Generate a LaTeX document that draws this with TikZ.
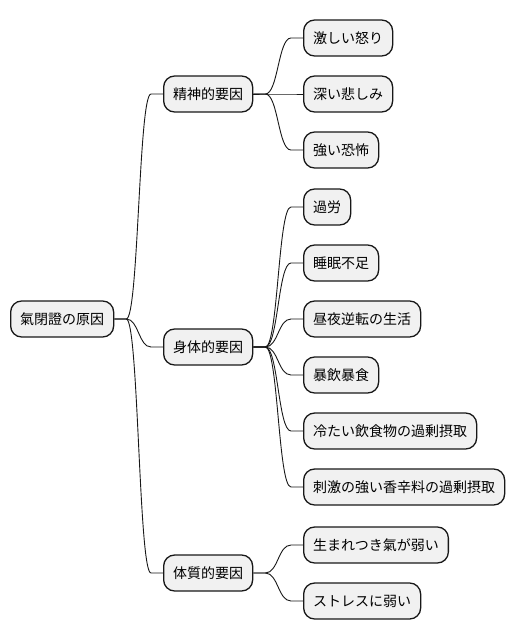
\documentclass[tikz,border=0pt]{standalone}
\usepackage{fontspec}
\setmainfont{Noto Sans CJK JP}
\usetikzlibrary{calc}
\definecolor{boxfill}{HTML}{F1F1F1}
\definecolor{lineclr}{HTML}{181818}
\tikzset{
  mmbox/.style={draw=lineclr, line width=1.3pt, fill=boxfill, rounded corners=11pt,
    minimum height=36pt, inner xsep=9.5pt, inner ysep=0pt, anchor=west,
    font=\fontsize{14}{16}\selectfont, text=black},
  mmline/.style={draw=lineclr, line width=0.9pt}
}
\newcommand\mmlink[2]{%
  \draw[mmline] let \p1=(#1.east), \p2=(#2.west) in
    (\p1) -- (\x1+12pt,\y1) .. controls ({(\x1+\x2)/2},\y1) and ({(\x1+\x2)/2},\y2) .. (\x2-12pt,\y2) -- (\p2);}
\begin{document}
\begin{tikzpicture}[x=1pt,y=-1pt]
\useasboundingbox (0,0) rectangle (516,640);
\node[mmbox] (root) at (10,319) {氣閉證の原因};
\node[mmbox] (a) at (163,94) {精神的要因};
\node[mmbox] (b) at (163,347) {身体的要因};
\node[mmbox] (c) at (163,573) {体質的要因};
\node[mmbox] (a1) at (303,38) {激しい怒り};
\node[mmbox] (a2) at (303,94) {深い悲しみ};
\node[mmbox] (a3) at (303,150) {強い恐怖};
\node[mmbox] (b1) at (303,207) {過労};
\node[mmbox] (b2) at (303,263) {睡眠不足};
\node[mmbox] (b3) at (303,319) {昼夜逆転の生活};
\node[mmbox] (b4) at (303,375) {暴飲暴食};
\node[mmbox] (b5) at (303,431) {冷たい飲食物の過剰摂取};
\node[mmbox] (b6) at (303,487) {刺激の強い香辛料の過剰摂取};
\node[mmbox] (c1) at (303,545) {生まれつき氣が弱い};
\node[mmbox] (c2) at (303,601) {ストレスに弱い};
\mmlink{root}{a}
\mmlink{root}{b}
\mmlink{root}{c}
\mmlink{a}{a1}
\mmlink{a}{a2}
\mmlink{a}{a3}
\mmlink{b}{b1}
\mmlink{b}{b2}
\mmlink{b}{b3}
\mmlink{b}{b4}
\mmlink{b}{b5}
\mmlink{b}{b6}
\mmlink{c}{c1}
\mmlink{c}{c2}
\end{tikzpicture}
\end{document}
